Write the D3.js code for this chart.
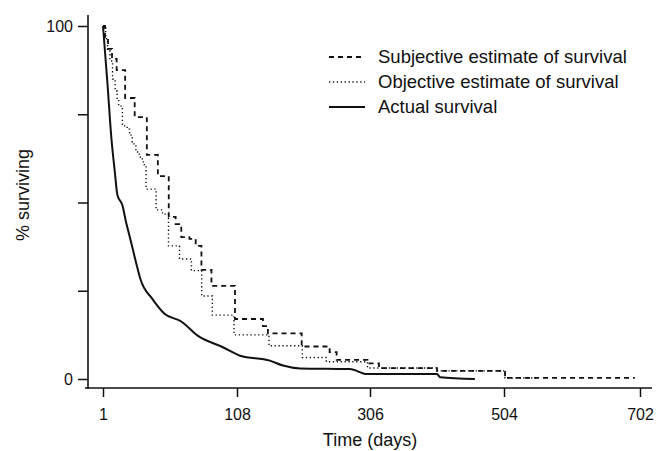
<!DOCTYPE html>
<html>
<head>
<meta charset="utf-8">
<script src="https://cdn.jsdelivr.net/npm/d3@7"></script>
<style>
  html, body { margin: 0; padding: 0; background: #fff; }
  svg { display: block; }
  text { font-family: "Liberation Sans", Arial, Helvetica, sans-serif; fill: #111; }
</style>
</head>
<body>
<svg id="chart" width="659" height="451"></svg>
<script>
// ---- data ----
const xTickValues = [1, 108, 306, 504, 702];
const yTickValues = [0, 25, 50, 75, 100];
const yTickLabels = {0: "0", 100: "100"};

const seriesNames = ["Subjective estimate of survival", "Objective estimate of survival", "Actual survival"];

const subjectiveDays = [1, 2.6, 5, 8.2, 11.9, 18.7, 26.3, 36, 44.8, 53.5, 59, 63.5, 70, 75, 79.6, 87.6, 106.4, 146.7, 154, 204.3, 245.9, 256.3, 302.2, 319.3, 405, 505.5, 694.6];
const subjectiveValues = [100, 96.6, 93.5, 90.7, 87.5, 79.6, 74.2, 63.5, 57.5, 45.9, 43.9, 40.2, 39.7, 37.7, 30.9, 26.4, 17.0, 15.0, 12.9, 9.2, 7.6, 5.4, 4.4, 3.1, 2.3, 0.3, 0.3];

const objectiveDays = [1, 3.2, 4.6, 6.6, 8.6, 10.7, 12.3, 13.5, 16.5, 20.3, 22.3, 24.3, 27.3, 30, 32.4, 34, 35.4, 43.4, 48.5, 53.3, 62.1, 71.6, 79.8, 88.3, 105.6, 155.6, 205.3, 241, 302.2, 405, 505.5, 553];
const objectiveValues = [100, 96.4, 92.9, 90.1, 85.0, 81.6, 79.3, 77.3, 71.7, 70.8, 69.1, 66.6, 64.3, 62.9, 61.5, 60.3, 53.8, 47.9, 46.7, 37.7, 34.0, 30.7, 23.5, 18.1, 12.5, 9.4, 6.1, 4.9, 3.1, 2.3, 0.3, 0.3];

const actualDays = [1, 4.5, 7.7, 10.4, 12.5, 16.5, 19.3, 22.7, 28.6, 30.8, 40.4, 50.1, 63.5, 76.6, 96.7, 112.5, 157, 176.5, 201.8, 276.2, 301.5, 405, 409.5, 461];
const actualValues = [100, 84, 68.2, 58.8, 52.1, 49.2, 44.6, 39.8, 31.3, 28.4, 22.7, 18.5, 16.3, 12.3, 9.0, 6.6, 5.2, 3.8, 3.0, 2.8, 1.4, 1.4, 0.5, 0];

// ---- layout ----
const svg = d3.select("#chart");
const x = d3.scaleLinear().domain(xTickValues).range([103, 237, 370, 504, 640]);
const y = d3.scaleLinear().domain([0, 100]).range([379, 26]);

const axisColor = "#111";

// y axis
const yAxis = svg.append("g").attr("transform", "translate(88,0)")
  .call(d3.axisLeft(y).tickValues(yTickValues).tickSize(10).tickPadding(5)
        .tickFormat(d => yTickLabels[d] || ""));
yAxis.select(".domain").remove();
yAxis.selectAll(".tick line").attr("stroke", axisColor).attr("stroke-width", 1.5);
yAxis.selectAll(".tick text").attr("font-size", 16).attr("fill", "#111")
  .style("font-family", "'Liberation Sans', Arial, sans-serif");
svg.append("line").attr("x1", 88).attr("x2", 88).attr("y1", 15).attr("y2", 389)
  .attr("stroke", axisColor).attr("stroke-width", 1.6);

// x axis
const xAxis = svg.append("g").attr("transform", "translate(0,388)")
  .call(d3.axisBottom(x).tickValues(xTickValues).tickSize(9).tickPadding(12)
        .tickFormat(d3.format("d")));
xAxis.select(".domain").remove();
xAxis.selectAll(".tick line").attr("stroke", axisColor).attr("stroke-width", 1.5);
xAxis.selectAll(".tick text").attr("font-size", 16).attr("fill", "#111")
  .style("font-family", "'Liberation Sans', Arial, sans-serif");
svg.append("line").attr("x1", 85).attr("x2", 652).attr("y1", 388).attr("y2", 388)
  .attr("stroke", axisColor).attr("stroke-width", 1.6);

// titles
svg.append("text").attr("x", 370).attr("y", 446).attr("text-anchor", "middle")
  .attr("font-size", 18).text("Time (days)");
svg.append("text").attr("transform", "translate(29,195) rotate(-90)")
  .attr("text-anchor", "middle").attr("font-size", 18).text("% surviving");

// lines
const stepLine = d3.line().x(d => x(d[0])).y(d => y(d[1])).curve(d3.curveStepAfter);
const smoothLine = d3.line().x(d => x(d[0])).y(d => y(d[1])).curve(d3.curveMonotoneX);

const styles = [
  {dash: "5,4", width: 1.8},
  {dash: "1.3,2.6", width: 1.4},
  {dash: null, width: 2}
];

svg.append("path").datum(d3.zip(subjectiveDays, subjectiveValues))
  .attr("d", stepLine).attr("fill", "none").attr("stroke", "#111")
  .attr("stroke-width", styles[0].width).attr("stroke-dasharray", styles[0].dash);
svg.append("path").datum(d3.zip(objectiveDays, objectiveValues))
  .attr("d", stepLine).attr("fill", "none").attr("stroke", "#111")
  .attr("stroke-width", styles[1].width).attr("stroke-dasharray", styles[1].dash);
svg.append("path").datum(d3.zip(actualDays, actualValues))
  .attr("d", smoothLine).attr("fill", "none").attr("stroke", "#111")
  .attr("stroke-width", styles[2].width);

// legend
const legend = svg.append("g");
const rowY = [57, 82, 107];
seriesNames.forEach((name, i) => {
  legend.append("line").attr("x1", 329).attr("x2", 365).attr("y1", rowY[i]).attr("y2", rowY[i])
    .attr("stroke", "#111").attr("stroke-width", styles[i].width)
    .attr("stroke-dasharray", styles[i].dash);
  legend.append("text").attr("x", 378).attr("y", rowY[i] + 6).attr("font-size", 18.5).text(name);
});
</script>
</body>
</html>
